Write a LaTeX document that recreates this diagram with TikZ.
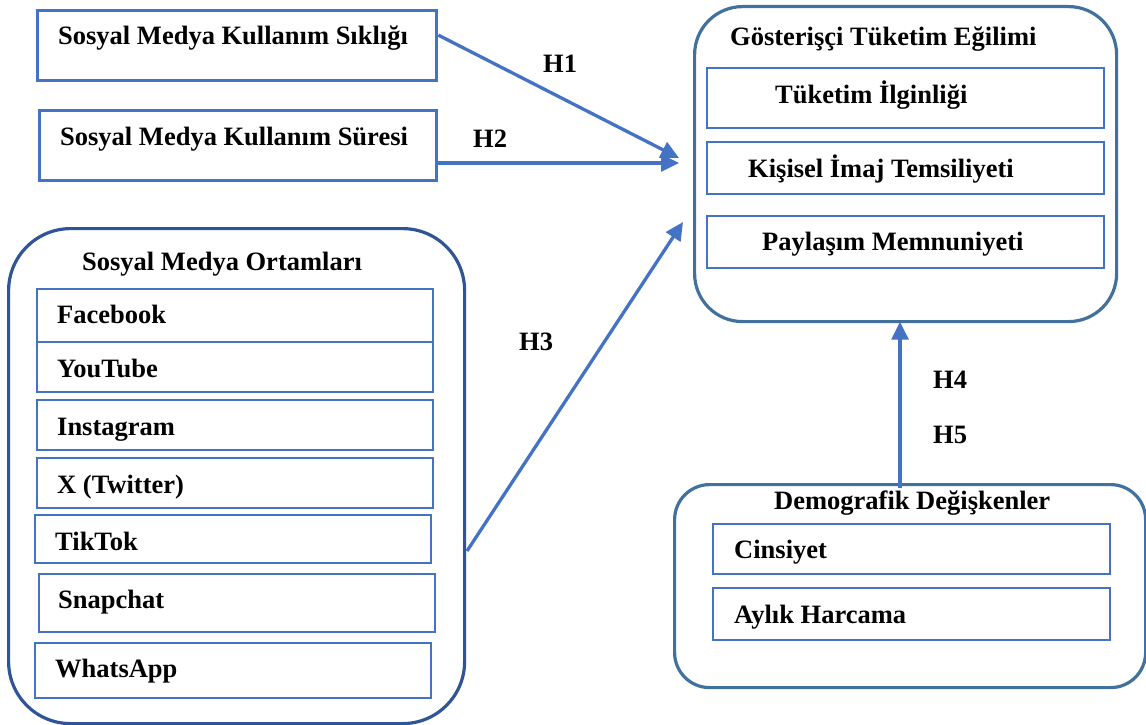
\documentclass[tikz,border=0pt]{standalone}
\usepackage{fontspec}
\setmainfont{Liberation Serif}
\usetikzlibrary{arrows.meta}
\definecolor{inblue}{HTML}{4472C4}
\definecolor{outblue}{HTML}{41719C}
\definecolor{darkblue}{HTML}{2F5597}
\tikzset{
  outerbox/.style={draw=outblue, line width=3.2pt, rounded corners=#1, rectangle, anchor=north west, inner sep=0pt},
  innerbox/.style={draw=inblue, line width=2.2pt, rectangle, anchor=north west, inner sep=0pt},
  topbox/.style={draw=inblue, line width=3.4pt, rectangle, anchor=north west, inner sep=0pt},
  txt/.style={anchor=base west, inner sep=0pt, font=\fontsize{26.5}{30}\selectfont\bfseries},
  arr/.style={draw=inblue, line width=3.3pt, -{Triangle[length=18pt,width=17pt]}}
}
\begin{document}
\begin{tikzpicture}[x=1pt,y=-1pt]
\useasboundingbox (0,0) rectangle (1146,725);
% top-left boxes
\node[topbox, minimum width=399pt, minimum height=70pt] (s1) at (36,9) {};
\node[topbox, minimum width=397pt, minimum height=70pt] (s2) at (38,109) {};
\node[txt] (s1t) at (58,45) {Sosyal Medya Kullanım Sıklığı};
\node[txt] (s2t) at (60,145) {Sosyal Medya Kullanım Süresi};
% right outcome box
\node[outerbox=48pt, minimum width=422pt, minimum height=315pt] (gte) at (693,5) {};
\node[txt] (gtet) at (730,46) {Gösterişçi Tüketim Eğilimi};
\node[innerbox, minimum width=397pt, minimum height=60pt] (g1) at (706,67) {};
\node[innerbox, minimum width=397pt, minimum height=52pt] (g2) at (706,141) {};
\node[innerbox, minimum width=397pt, minimum height=52pt] (g3) at (706,215) {};
\node[txt] (g1t) at (775,103) {Tüketim İlginliği};
\node[txt] (g2t) at (748,177) {Kişisel İmaj Temsiliyeti};
\node[txt] (g3t) at (762,250) {Paylaşım Memnuniyeti};
% left social media box
\node[outerbox=62pt, draw=darkblue, minimum width=456pt, minimum height=495pt] (smo) at (7,227) {};
\node[txt] (smot) at (82,270) {Sosyal Medya Ortamları};
\node[innerbox, minimum width=396pt, minimum height=53pt] (p1) at (36,288) {};
\node[innerbox, minimum width=396pt, minimum height=50pt] (p2) at (36,341) {};
\node[innerbox, minimum width=396pt, minimum height=50pt] (p3) at (36,399) {};
\node[innerbox, minimum width=396pt, minimum height=50pt] (p4) at (36,457) {};
\node[innerbox, minimum width=396pt, minimum height=48pt] (p5) at (34,514) {};
\node[innerbox, minimum width=396pt, minimum height=58pt] (p6) at (38,573) {};
\node[innerbox, minimum width=396pt, minimum height=55pt] (p7) at (34,642) {};
\node[txt] (p1t) at (57,323) {Facebook};
\node[txt] (p2t) at (57,377) {YouTube};
\node[txt] (p3t) at (57,435) {Instagram};
\node[txt] (p4t) at (57,493) {X (Twitter)};
\node[txt] (p5t) at (55,550) {TikTok};
\node[txt] (p6t) at (58,608) {Snapchat};
\node[txt] (p7t) at (55,677) {WhatsApp};
% demographics box
\node[outerbox=35pt, minimum width=471pt, minimum height=203pt] (dem) at (673,483) {};
\node[txt] (demt) at (774,509) {Demografik Değişkenler};
\node[innerbox, minimum width=397pt, minimum height=50pt] (d1) at (712,523) {};
\node[innerbox, minimum width=397pt, minimum height=52pt] (d2) at (712,587) {};
\node[txt] (d1t) at (734,558) {Cinsiyet};
\node[txt] (d2t) at (734,623) {Aylık Harcama};
% connectors
\coordinate (t1) at (679,158);
\coordinate (t2) at (679,163);
\coordinate (h3s) at (467,551);
\coordinate (t3) at (683,222);
\coordinate (ax) at (900,0);
\draw[arr] (s1.3) -- (t1);
\draw[arr] (s2.east |- t2) -- (t2);
\draw[arr] (h3s) -- (t3);
\draw[arr] ([yshift=-5pt]dem.north -| ax) -- ([yshift=1.5pt]gte.south -| ax);
% labels
\node[txt] (h1) at (543,73) {H1};
\node[txt] (h2) at (473,147) {H2};
\node[txt] (h3) at (519,350) {H3};
\node[txt] (h4) at (933,388) {H4};
\node[txt] (h5) at (933,443) {H5};
\end{tikzpicture}
\end{document}
